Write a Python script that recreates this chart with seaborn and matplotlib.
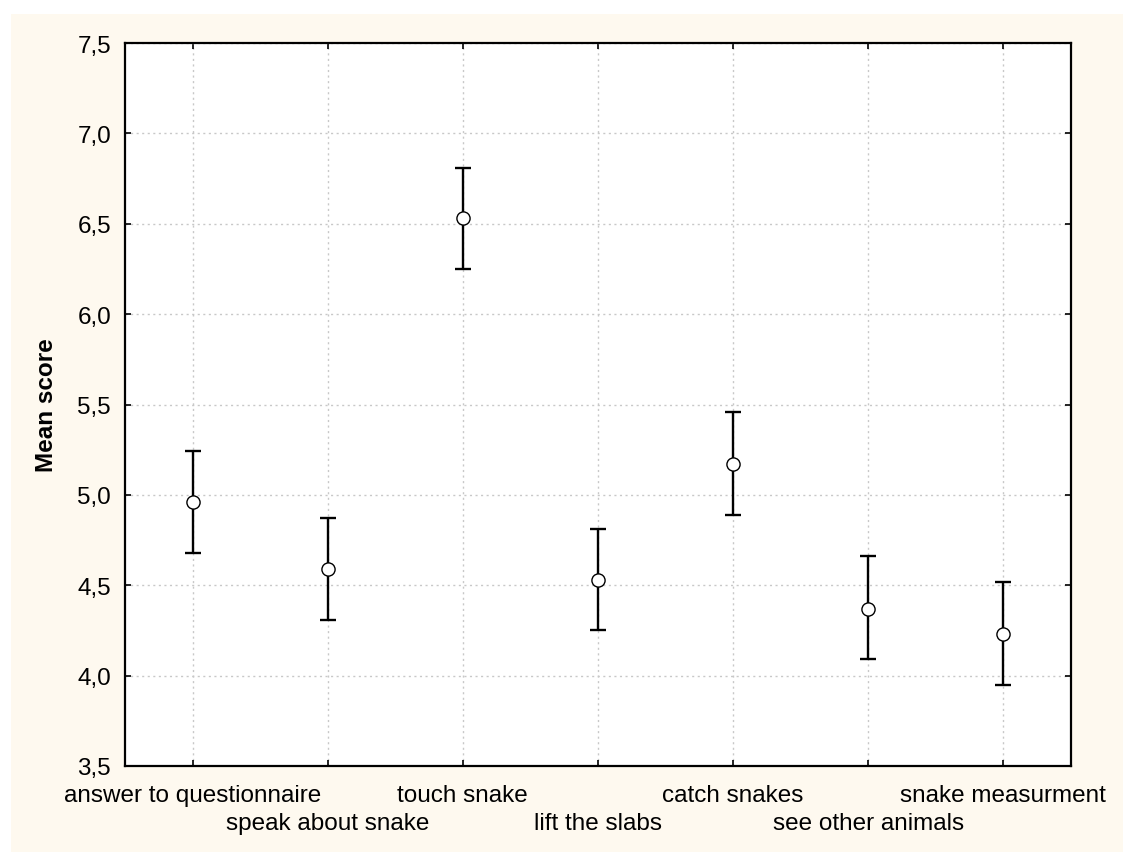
import matplotlib
matplotlib.use("Agg")
import matplotlib.pyplot as plt
import matplotlib.transforms as mtransforms
import seaborn as sns
import pandas as pd
import numpy as np
from matplotlib.patches import Rectangle

categories = ["answer to questionnaire", "speak about snake", "touch snake",
              "lift the slabs", "catch snakes", "see other animals", "snake measurment"]
means = [4.96, 4.59, 6.53, 4.53, 5.17, 4.37, 4.23]
lower = [4.68, 4.31, 6.25, 4.25, 4.89, 4.09, 3.95]
upper = [5.24, 4.87, 6.81, 4.81, 5.46, 4.66, 4.52]
yticks = [3.5, 4.0, 4.5, 5.0, 5.5, 6.0, 6.5, 7.0, 7.5]
ytick_labels = ["3,5", "4,0", "4,5", "5,0", "5,5", "6,0", "6,5", "7,0", "7,5"]

df = pd.DataFrame({"category": categories, "mean": means, "lower": lower, "upper": upper})

sns.set_theme(style="white")
plt.rcParams["font.family"] = ["Liberation Sans", "DejaVu Sans"]

fig = plt.figure(figsize=(11.23, 8.53), dpi=100, facecolor="white")
fig.patches.append(Rectangle((11 / 1123, 0), 1 - 11 / 1123, 1 - 15 / 853,
                             transform=fig.transFigure, facecolor="#FEF9EF",
                             edgecolor="none", zorder=-10))
ax = fig.add_axes([125 / 1123, 1 - 767 / 853, (1071 - 125) / 1123, (767 - 44) / 853])
ax.set_facecolor("white")

x = np.arange(len(categories))
err = np.vstack([df["mean"] - df["lower"], df["upper"] - df["mean"]])
ax.errorbar(x, df["mean"], yerr=err, fmt="none", ecolor="black",
            elinewidth=1.7, capsize=5.5, capthick=1.7, zorder=3)
sns.scatterplot(x=x, y=df["mean"], ax=ax, marker="o", s=90, color="white",
                edgecolor="black", linewidth=1.0, zorder=4)

ax.set_xlim(-0.5, len(categories) - 0.5)
ax.set_ylim(3.5, 7.5)
ax.set_yticks(yticks)
ax.set_yticklabels(ytick_labels, fontsize=17.5)
ax.set_xticks(x)
ax.set_xticklabels(categories, fontsize=17.5)
ax.tick_params(direction="in", length=4, width=1.2, top=True, right=True,
               colors="black", bottom=True, left=True)
ax.tick_params(axis="y", pad=10)
ax.tick_params(axis="x", pad=13)
shift = mtransforms.ScaledTranslation(0, -28 / 100, fig.dpi_scale_trans)
for i, lab in enumerate(ax.get_xticklabels()):
    if i % 2 == 1:
        lab.set_transform(lab.get_transform() + shift)
ax.grid(True, linestyle=(0, (1.5, 2.5)), color="#c8c8c8", linewidth=1.0)
ax.set_axisbelow(True)
for s in ax.spines.values():
    s.set_visible(True)
    s.set_color("black")
    s.set_linewidth(1.6)
ax.set_ylabel("Mean score", fontsize=17.5, fontweight="bold", labelpad=14, color="black")
ax.set_xlabel("")

fig.savefig("out.png", dpi=100, facecolor=fig.get_facecolor())
